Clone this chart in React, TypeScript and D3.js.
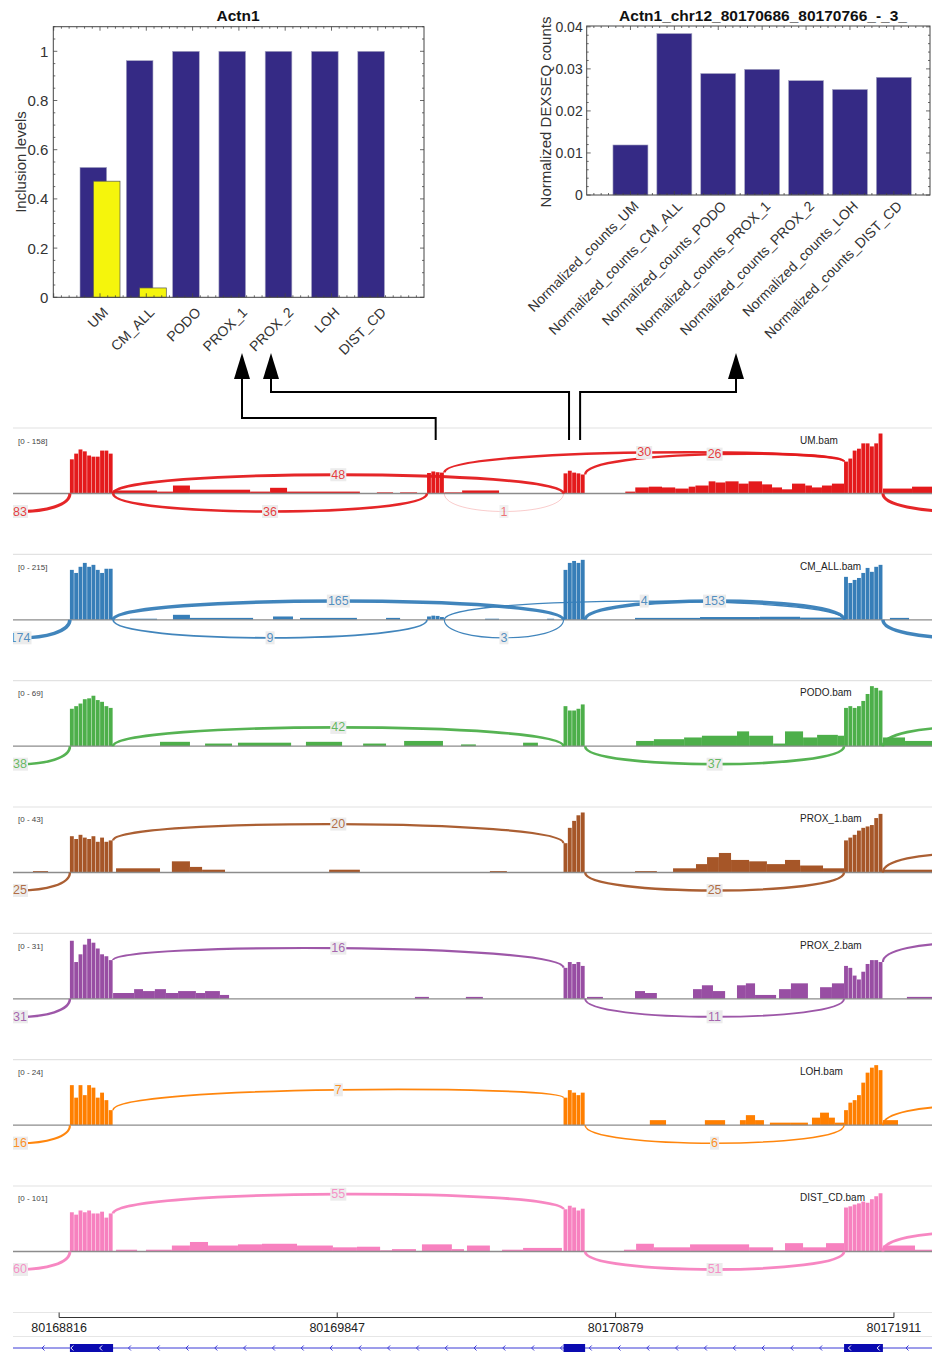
import React from 'react';
import * as d3 from 'd3';

// ---------- genomic window (chr12), positions are bp past ORIGIN ----------
const ORIGIN = 80168645;
const WINDOW_BP = 3407;
const AXIS_TICKS = [80168816, 80169847, 80170879, 80171911];

const EXON_A = [211, 371];
const EXON_ALT = [1535, 1599];
const EXON_B = [2041, 2121]; // chr12:80170686-80170766
const EXON_C = [3081, 3225];
const GENE_EXONS = [EXON_A, EXON_B, EXON_C];
const COVERAGE_EXONS = [EXON_A, EXON_ALT, EXON_B, EXON_C];
const BIN_BP = 16;

const SAMPLES = ['UM', 'CM_ALL', 'PODO', 'PROX_1', 'PROX_2', 'LOH', 'DIST_CD'];
const DATA_RANGE_MAX = [158, 215, 69, 43, 31, 24, 101];
const TRACK_COLORS = ['#e41a1c', '#377eb8', '#4daf4a', '#a65628', '#984ea3', '#ff7f00', '#f781bf'];

// reads per 16-bp bin: exon A, alternative exon, exon B, exon C
const UM_EXON_COV = [
  [90, 105, 116, 111, 100, 97, 97, 113, 113, 105],
  [54, 58, 56, 55],
  [53, 60, 55, 53, 50],
  [84, 92, 113, 118, 132, 132, 124, 132, 158],
];
const CM_ALL_EXON_COV = [
  [179, 168, 190, 204, 190, 197, 179, 168, 183, 183],
  [12, 15, 14, 10],
  [179, 204, 211, 204, 215],
  [154, 132, 143, 150, 168, 186, 172, 190, 197],
];
const PODO_EXON_COV = [
  [43, 46, 49, 54, 55, 58, 53, 51, 46, 44],
  [],
  [46, 41, 41, 43, 48],
  [44, 46, 44, 46, 52, 60, 69, 67, 64],
];
const PROX_1_EXON_COV = [
  [26, 24, 27, 25, 24, 26, 22, 25, 22, 23],
  [],
  [21, 32, 37, 41, 43],
  [23, 25, 27, 30, 32, 33, 34, 39, 42],
];
const PROX_2_EXON_COV = [
  [30, 19, 23, 28, 31, 29, 26, 23, 22, 20],
  [],
  [16, 19, 18, 19, 17],
  [17, 16, 12, 10, 14, 18, 20, 20, 19],
];
const LOH_EXON_COV = [
  [16, 11, 16, 12, 16, 15, 11, 13, 10, 6],
  [],
  [11, 14, 13, 12, 13],
  [6, 9, 10, 12, 17, 21, 23, 24, 22],
];
const DIST_CD_EXON_COV = [
  [66, 62, 69, 66, 69, 64, 64, 67, 57, 64],
  [],
  [71, 77, 74, 69, 72],
  [74, 76, 79, 81, 84, 82, 88, 93, 98],
];

// intronic / flanking coverage runs: [from, to, reads]
const UM_OTHER_COV = [
  [371, 534, 8], [534, 593, 5], [593, 656, 21], [656, 879, 10], [879, 953, 5], [953, 1016, 15],
  [1016, 1286, 5], [1349, 1409, 3], [1435, 1498, 3], [1599, 1665, 3], [1665, 1802, 8],
  [2270, 2307, 5], [2307, 2357, 16], [2357, 2406, 18], [2406, 2455, 16], [2455, 2505, 13],
  [2505, 2530, 18], [2530, 2579, 21], [2579, 2604, 32], [2604, 2641, 29], [2641, 2690, 32],
  [2690, 2727, 26], [2727, 2777, 32], [2777, 2814, 24], [2814, 2851, 16], [2851, 2888, 11],
  [2888, 2937, 26], [2937, 2962, 21], [2962, 2999, 16], [2999, 3036, 21], [3036, 3081, 26],
  [3225, 3333, 13], [3333, 3407, 18],
];
const CM_ALL_OTHER_COV = [
  [434, 534, 4], [593, 656, 18], [656, 890, 7], [964, 1038, 12], [1064, 1275, 7], [1383, 1435, 7],
  [1750, 1802, 4], [1980, 2006, 4],
  [2306, 2547, 7], [2547, 2769, 10], [2769, 2918, 11], [2918, 3073, 8],
  [3251, 3322, 7],
];
const PODO_OTHER_COV = [
  [545, 656, 5], [712, 812, 3], [834, 1031, 4], [1086, 1220, 5], [1298, 1383, 3], [1450, 1594, 6],
  [1661, 1716, 2], [1891, 1946, 4],
  [2310, 2376, 6], [2376, 2488, 8], [2488, 2554, 10], [2554, 2684, 12], [2684, 2729, 17],
  [2729, 2818, 12], [2818, 2862, 3], [2862, 2929, 17], [2929, 2981, 10], [2981, 3058, 13],
  [3058, 3081, 12],
  [3225, 3307, 10], [3307, 3407, 6],
];
const PROX_1_OTHER_COV = [
  [74, 130, 1],
  [382, 545, 3], [589, 656, 8], [656, 701, 4], [701, 786, 2], [1172, 1286, 2], [1768, 1831, 1],
  [2306, 2387, 1], [2447, 2532, 3], [2532, 2573, 6], [2573, 2617, 11], [2617, 2662, 14],
  [2662, 2729, 9], [2729, 2795, 8], [2795, 2862, 6], [2862, 2918, 9], [2918, 3003, 5],
  [3003, 3081, 3],
  [3225, 3407, 2],
];
const PROX_2_OTHER_COV = [
  [371, 393, 3], [393, 449, 3], [449, 482, 5], [482, 526, 4], [526, 567, 5], [567, 612, 3],
  [612, 678, 4], [678, 712, 3], [712, 767, 4], [767, 801, 2], [1490, 1542, 1], [1679, 1742, 1],
  [2128, 2187, 1], [2306, 2343, 4], [2343, 2387, 3], [2521, 2554, 5], [2554, 2595, 7],
  [2595, 2640, 4], [2684, 2717, 7], [2717, 2751, 8], [2751, 2829, 2], [2840, 2884, 5],
  [2884, 2947, 8], [2992, 3036, 6], [3036, 3081, 8],
  [3314, 3407, 1],
];
const LOH_OTHER_COV = [
  [2361, 2421, 2], [2565, 2640, 2], [2695, 2717, 2], [2717, 2751, 4], [2751, 2784, 2],
  [2806, 2884, 1], [2884, 2947, 1], [2962, 2992, 3], [2992, 3025, 5], [3025, 3047, 3],
  [3047, 3081, 1],
  [3225, 3281, 2],
];
const DIST_CD_OTHER_COV = [
  [382, 460, 3], [493, 589, 3], [589, 656, 10], [656, 723, 16], [723, 834, 10], [834, 923, 12],
  [923, 1053, 13], [1053, 1186, 10], [1186, 1275, 7], [1275, 1361, 8], [1361, 1405, 2],
  [1405, 1494, 4], [1516, 1627, 12], [1627, 1672, 4], [1683, 1768, 10], [1813, 1891, 3],
  [1891, 2035, 6],
  [2265, 2310, 3], [2310, 2376, 13], [2376, 2510, 7], [2510, 2729, 12], [2729, 2818, 7],
  [2818, 2862, 2], [2862, 2929, 14], [2929, 3014, 7], [3014, 3081, 14],
  [3225, 3344, 10], [3344, 3407, 3],
];

// splice junctions: [donor, acceptor, reads, side (1 above, -1 below)]
const UM_JUNCTIONS = [
  [-159, 211, 83, -1], [371, 2041, 48, 1], [371, 1535, 36, -1], [1599, 2041, 1, -1],
  [1599, 3081, 30, 1], [2121, 3081, 26, 1], [3225, 3800, 82, -1],
];
const CM_ALL_JUNCTIONS = [
  [-159, 211, 174, -1], [371, 2041, 165, 1], [371, 1535, 9, -1], [1599, 2041, 3, -1],
  [1599, 3081, 4, 1], [2121, 3081, 153, 1], [3225, 3800, 168, -1],
];
const PODO_JUNCTIONS = [[-159, 211, 38, -1], [371, 2041, 42, 1], [2121, 3081, 37, -1], [3225, 3800, 40, 1]];
const PROX_1_JUNCTIONS = [[-159, 211, 25, -1], [371, 2041, 20, 1], [2121, 3081, 25, -1], [3225, 3800, 22, 1]];
const PROX_2_JUNCTIONS = [[-159, 211, 31, -1], [371, 2041, 16, 1], [2121, 3081, 11, -1], [3225, 3800, 17, 1]];
const LOH_JUNCTIONS = [[-159, 211, 16, -1], [371, 2041, 7, 1], [2121, 3081, 6, -1], [3225, 3800, 9, 1]];
const DIST_CD_JUNCTIONS = [[-159, 211, 60, -1], [371, 2041, 55, 1], [2121, 3081, 51, -1], [3225, 3800, 57, 1]];

// arcs whose feet sit on top of the coverage instead of the axis
const ARCS_ON_COVERAGE = new Set([
  'UM:1599-3081', 'UM:2121-3081', 'PROX_1:371-2041', 'PROX_2:371-2041', 'PROX_2:3225-3800',
  'LOH:371-2041', 'DIST_CD:371-2041',
]);

// ---------- summary bar charts ----------
const PSI_CATEGORIES = ['UM', 'CM_ALL', 'PODO', 'PROX_1', 'PROX_2', 'LOH', 'DIST_CD'];
const PSI_EXON_B = [0.528, 0.962, 1, 1, 1, 1, 1];
const PSI_EXON_ALT = [0.472, 0.038, 0, 0, 0, 0, 0];
const PSI_TICKS = [0, 0.2, 0.4, 0.6, 0.8, 1];

const DEXSEQ_CATEGORIES = [
  'Normalized_counts_UM', 'Normalized_counts_CM_ALL', 'Normalized_counts_PODO', 'Normalized_counts_PROX_1',
  'Normalized_counts_PROX_2', 'Normalized_counts_LOH', 'Normalized_counts_DIST_CD',
];
const DEXSEQ_COUNTS = [0.0119, 0.0384, 0.0289, 0.0299, 0.0272, 0.0251, 0.028];
const DEXSEQ_TICKS = [0, 0.01, 0.02, 0.03, 0.04];

const EXON_COV = [UM_EXON_COV, CM_ALL_EXON_COV, PODO_EXON_COV, PROX_1_EXON_COV, PROX_2_EXON_COV, LOH_EXON_COV, DIST_CD_EXON_COV];
const OTHER_COV = [UM_OTHER_COV, CM_ALL_OTHER_COV, PODO_OTHER_COV, PROX_1_OTHER_COV, PROX_2_OTHER_COV, LOH_OTHER_COV, DIST_CD_OTHER_COV];
const JUNCTIONS = [UM_JUNCTIONS, CM_ALL_JUNCTIONS, PODO_JUNCTIONS, PROX_1_JUNCTIONS, PROX_2_JUNCTIONS, LOH_JUNCTIONS, DIST_CD_JUNCTIONS];

const FONT = "'Liberation Sans', Arial, sans-serif";
const W = 932;
const H = 1355;

function coverageAt(k: number, pos: number): number | null {
  if (pos < 0 || pos >= WINDOW_BP) return null;
  const ex = EXON_COV[k];
  for (let e = 0; e < COVERAGE_EXONS.length; e++) {
    const [s, t] = COVERAGE_EXONS[e];
    if (ex[e].length && pos >= s && pos < t) return ex[e][Math.floor((pos - s) / BIN_BP)] ?? 0;
  }
  for (const [s, t, v] of OTHER_COV[k]) if (pos >= s && pos < t) return v;
  return 0;
}

type Frame = { L: number; R: number; T: number; B: number };

function FrameTicks({ f, y, major, minorStep, xStep, xStart }: { f: Frame; y: any; major: number[]; minorStep: number; xStep: number; xStart: number }) {
  const top = y.domain()[1];
  const minors = d3.range(0, top + 1e-9, minorStep).filter((v) => !major.some((m) => Math.abs(m - v) < 1e-9));
  const xs: { x: number; big: boolean }[] = [];
  const i0 = Math.ceil((f.L - xStart) / xStep);
  for (let i = i0; xStart + i * xStep < f.R; i++) xs.push({ x: xStart + i * xStep, big: ((i % 6) + 6) % 6 === 0 });
  const lines: JSX.Element[] = [];
  major.forEach((v, i) => {
    const yy = y(v);
    lines.push(<line key={'ml' + i} x1={f.L} x2={f.L + 4} y1={yy} y2={yy} />);
    lines.push(<line key={'mr' + i} x1={f.R} x2={f.R - 4} y1={yy} y2={yy} />);
  });
  minors.forEach((v, i) => {
    const yy = y(v);
    lines.push(<line key={'nl' + i} x1={f.L} x2={f.L + 2} y1={yy} y2={yy} />);
    lines.push(<line key={'nr' + i} x1={f.R} x2={f.R - 2} y1={yy} y2={yy} />);
  });
  xs.forEach((t, i) => {
    const len = t.big ? 4 : 2;
    lines.push(<line key={'xt' + i} x1={t.x} x2={t.x} y1={f.T} y2={f.T + len} />);
    lines.push(<line key={'xb' + i} x1={t.x} x2={t.x} y1={f.B} y2={f.B - len} />);
  });
  return <g stroke="#444" strokeWidth={0.8}>{lines}</g>;
}

function PsiChart() {
  const f: Frame = { L: 53.3, R: 424, T: 26.7, B: 297.3 };
  const y = d3.scaleLinear().domain([0, 1.1]).range([f.B, f.T]);
  const x = d3.scaleBand<string>().domain(PSI_CATEGORIES).range([76.85, 400.95]).paddingInner(0.136).paddingOuter(0.068);
  const bw = x.bandwidth();
  const barW = (bw * 2) / 3;
  return (
    <g fontFamily={FONT}>
      <text x={238} y={20.5} textAnchor="middle" fontWeight="bold" fontSize={15.5} fill="#111">Actn1</text>
      {PSI_CATEGORIES.map((c, i) => (
        <rect key={'b' + c} x={x(c)} y={y(PSI_EXON_B[i])} width={barW} height={y(0) - y(PSI_EXON_B[i])} fill="#352a85" stroke="#a9a9c4" strokeWidth={0.6} />
      ))}
      {PSI_CATEGORIES.map((c, i) =>
        PSI_EXON_ALT[i] > 0 ? (
          <rect key={'y' + c} x={(x(c) as number) + bw / 3} y={y(PSI_EXON_ALT[i])} width={barW} height={y(0) - y(PSI_EXON_ALT[i])} fill="#f5f50c" stroke="#555" strokeWidth={0.7} />
        ) : null
      )}
      <rect x={f.L} y={f.T} width={f.R - f.L} height={f.B - f.T} fill="none" stroke="#444" strokeWidth={1} />
      <FrameTicks f={f} y={y} major={PSI_TICKS} minorStep={0.05} xStep={x.step() / 6} xStart={(x(PSI_CATEGORIES[0]) as number) + bw / 2} />
      {PSI_TICKS.map((v) => (
        <text key={'t' + v} x={f.L - 5} y={y(v)} textAnchor="end" dominantBaseline="central" fontSize={15} fill="#333">{String(+v.toFixed(2))}</text>
      ))}
      <text transform={`translate(20,162) rotate(-90)`} textAnchor="middle" dominantBaseline="central" fontSize={15} fill="#333">Inclusion levels</text>
      {PSI_CATEGORIES.map((c) => {
        const ax = (x(c) as number) + bw / 2 + 9;
        const ay = f.B + 16;
        return (
          <text key={'l' + c} transform={`translate(${ax},${ay}) rotate(-45)`} textAnchor="end" fontSize={14} fill="#333">{c}</text>
        );
      })}
    </g>
  );
}

function DexseqChart() {
  const f: Frame = { L: 586.7, R: 930, T: 26, B: 195 };
  const y = d3.scaleLinear().domain([0, 0.0402]).range([f.B, f.T]);
  const x = d3.scaleBand<string>().domain(DEXSEQ_CATEGORIES).range([608.5, 915.8]).paddingInner(0.203).paddingOuter(0.1015);
  const bw = x.bandwidth();
  return (
    <g fontFamily={FONT}>
      <text x={763} y={21} textAnchor="middle" fontWeight="bold" fontSize={15.5} fill="#111">Actn1_chr12_80170686_80170766_-_3_</text>
      {DEXSEQ_CATEGORIES.map((c, i) => (
        <rect key={c} x={x(c)} y={y(DEXSEQ_COUNTS[i])} width={bw} height={y(0) - y(DEXSEQ_COUNTS[i])} fill="#352a85" stroke="#a9a9c4" strokeWidth={0.6} />
      ))}
      <rect x={f.L} y={f.T} width={f.R - f.L} height={f.B - f.T} fill="none" stroke="#444" strokeWidth={1} />
      <FrameTicks f={f} y={y} major={DEXSEQ_TICKS} minorStep={0.002} xStep={x.step() / 6} xStart={(x(DEXSEQ_CATEGORIES[0]) as number) + bw / 2} />
      {DEXSEQ_TICKS.map((v) => (
        <text key={'t' + v} x={f.L - 4} y={y(v)} textAnchor="end" dominantBaseline="central" fontSize={14} fill="#333">{String(+v.toFixed(3))}</text>
      ))}
      <text transform={`translate(545,112) rotate(-90)`} textAnchor="middle" dominantBaseline="central" fontSize={15} fill="#333">Normalized DEXSEQ counts</text>
      {DEXSEQ_CATEGORIES.map((c) => {
        const ax = (x(c) as number) + bw / 2 + 9;
        const ay = f.B + 12;
        return (
          <text key={'l' + c} transform={`translate(${ax},${ay}) rotate(-45)`} textAnchor="end" fontSize={14} fill="#333">{c}</text>
        );
      })}
    </g>
  );
}

const xG = d3.scaleLinear().domain([0, WINDOW_BP]).range([13, W]);
const arcWidth = d3.scaleLog().domain([1, 200]).range([0.5, 3.6]).clamp(true);

function Track({ k }: { k: number }) {
  const top = 428 + k * 126.33;
  const base = top + 65.5;
  const color = TRACK_COLORS[k];
  const y = d3.scaleLinear().domain([0, DATA_RANGE_MAX[k]]).range([base, base - 60]);
  const binPx = xG(BIN_BP) - xG(0);

  const rects: JSX.Element[] = [];
  COVERAGE_EXONS.forEach(([s], e) => {
    EXON_COV[k][e].forEach((v, i) => {
      const x0 = xG(s + i * BIN_BP);
      rects.push(<rect key={`e${e}-${i}`} x={x0} y={y(v)} width={binPx - 0.45} height={base - y(v)} fill={color} />);
    });
  });
  OTHER_COV[k].forEach(([s, t, v], i) => {
    rects.push(<rect key={'o' + i} x={xG(s)} y={y(v)} width={xG(t) - xG(s)} height={base - y(v)} fill={color} />);
  });

  const arcs: JSX.Element[] = [];
  const labels: JSX.Element[] = [];
  JUNCTIONS[k].forEach(([from, to, reads, side], i) => {
    const x1 = xG(from);
    const x2 = xG(to);
    let y1 = base;
    let y2 = base;
    let yc: number;
    if (side > 0) {
      if (ARCS_ON_COVERAGE.has(`${SAMPLES[k]}:${from}-${to}`)) {
        const c1 = coverageAt(k, from - 1);
        const c2 = coverageAt(k, to);
        y1 = y(c1 ?? c2 ?? 0);
        y2 = y(c2 ?? c1 ?? 0);
      }
      yc = Math.max(y1, y2) - 25;
    } else {
      yc = base + 24;
    }
    const p = d3.path();
    p.moveTo(x1, y1);
    p.bezierCurveTo(x1, yc, x2, yc, x2, y2);
    arcs.push(<path key={'a' + i} d={p.toString()} fill="none" stroke={color} strokeWidth={arcWidth(reads)} strokeOpacity={reads < 2 ? 0.45 : 0.95} />);
    const lx = (x1 + x2) / 2;
    // a junction whose midpoint lies past the right end of the window keeps its count out of view
    if (lx > W) return;
    const ly = 0.125 * (y1 + y2) + 0.75 * yc;
    const tw = String(reads).length * 7 + 2;
    labels.push(
      <g key={'l' + i} opacity={reads < 2 ? 0.7 : 1}>
        <rect x={lx - tw / 2} y={ly - 6.5} width={tw} height={13} fill="#ececec" />
        <text x={lx} y={ly} textAnchor="middle" dominantBaseline="central" fontSize={12.5} fill={color} fillOpacity={0.85}>{reads}</text>
      </g>
    );
  });

  return (
    <g fontFamily={FONT}>
      <line x1={13} x2={W} y1={top} y2={top} stroke="#e2e2e2" strokeWidth={1.2} />
      <text x={18} y={top + 15.5} fontSize={8} fill="#444">{`[0 - ${DATA_RANGE_MAX[k]}]`}</text>
      <text x={800} y={top + 15.5} fontSize={10} fill="#222">{`${SAMPLES[k]}.bam`}</text>
      <g clipPath="url(#trackClip)">
        {rects}
        <line x1={13} x2={W} y1={base} y2={base} stroke="#8c8c8c" strokeWidth={1.3} />
        {arcs}
        {labels}
      </g>
    </g>
  );
}

function GenomeAxis() {
  const ticks = AXIS_TICKS.map((g) => xG(g - ORIGIN));
  return (
    <g fontFamily={FONT}>
      <line x1={13} x2={W} y1={1312.5} y2={1312.5} stroke="#e6e6e6" strokeWidth={1.2} />
      <line x1={ticks[0]} x2={ticks[ticks.length - 1]} y1={1317.5} y2={1317.5} stroke="#333" strokeWidth={1} />
      {AXIS_TICKS.map((g, i) => (
        <g key={g}>
          <line x1={ticks[i]} x2={ticks[i]} y1={1312.5} y2={1317.5} stroke="#333" strokeWidth={1} />
          <text x={ticks[i]} y={1331.5} textAnchor="middle" fontSize={12.5} fill="#222">{g}</text>
        </g>
      ))}
      <line x1={13} x2={W} y1={1336.5} y2={1336.5} stroke="#e6e6e6" strokeWidth={1.2} />
    </g>
  );
}

function GeneModel() {
  const yLine = 1348;
  const inExon = (px: number) => GENE_EXONS.some(([s, t]) => px > xG(s) && px < xG(t));
  const chevrons = d3.range(43, W, 28.8);
  return (
    <g>
      <line x1={13} x2={W} y1={yLine} y2={yLine} stroke="#3b3bd6" strokeWidth={1} />
      {GENE_EXONS.map(([s, t], i) => (
        <rect key={i} x={xG(s)} y={yLine - 4} width={xG(t) - xG(s)} height={8} fill="#0a0ab0" />
      ))}
      {chevrons.map((cx, i) => (
        <path key={i} d={`M${cx + 1.5},${yLine - 2.5} L${cx - 1},${yLine} L${cx + 1.5},${yLine + 2.5}`} fill="none" stroke={inExon(cx) ? '#ffffff' : '#3b3bd6'} strokeWidth={1} />
      ))}
    </g>
  );
}

function Arrows() {
  const altMid = xG((EXON_ALT[0] + EXON_ALT[1]) / 2);
  const bLeft = xG(EXON_B[0]) + 5.5;
  const bRight = xG(EXON_B[1]) - 5;
  const routes = [
    { pts: [[altMid, 440], [altMid, 418], [242, 418], [242, 376]], tip: 242 },
    { pts: [[bLeft, 440], [bLeft, 392], [271, 392], [271, 376]], tip: 271 },
    { pts: [[bRight, 440], [bRight, 392], [736, 392], [736, 376]], tip: 736 },
  ];
  return (
    <g>
      {routes.map((r, i) => (
        <g key={i}>
          <polyline points={r.pts.map((p) => p.join(',')).join(' ')} fill="none" stroke="#000" strokeWidth={2} />
          <polygon points={`${r.tip},353 ${r.tip - 8},379 ${r.tip + 8},379`} fill="#000" />
        </g>
      ))}
    </g>
  );
}

export default function App() {
  return (
    <svg width={W} height={H} viewBox={`0 0 ${W} ${H}`} style={{ position: 'absolute', left: 0, top: 0, background: '#fff' }}>
      <defs>
        <clipPath id="trackClip">
          <rect x={13} y={420} width={W - 13} height={885} />
        </clipPath>
      </defs>
      <rect x={0} y={0} width={W} height={H} fill="#fff" />
      <PsiChart />
      <DexseqChart />
      {SAMPLES.map((s, k) => (
        <Track key={s} k={k} />
      ))}
      <Arrows />
      <GenomeAxis />
      <GeneModel />
    </svg>
  );
}
